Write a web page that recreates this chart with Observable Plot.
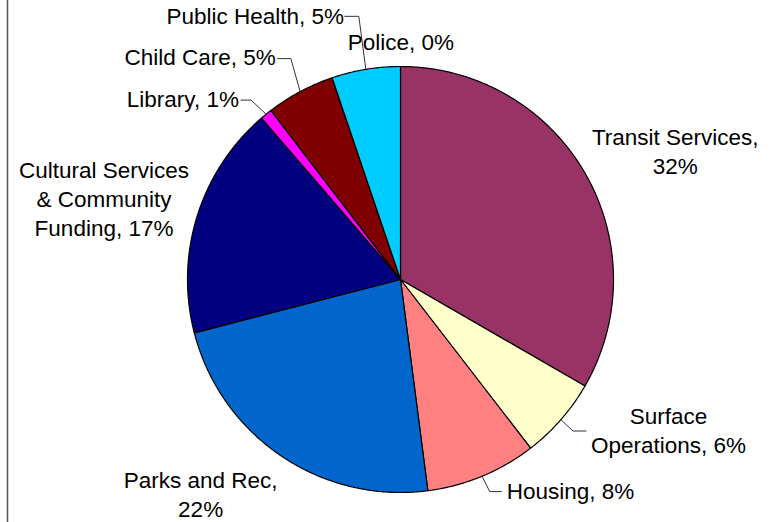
<!DOCTYPE html>
<html><head><meta charset="utf-8">
<script src="https://cdn.jsdelivr.net/npm/d3@7"></script>
<script src="https://cdn.jsdelivr.net/npm/@observablehq/plot@0.6"></script>
<style>body{margin:0;background:#fff}</style>
</head><body><div id="chart"></div>
<script>
// ---- data ----
const categories = ["Transit Services","Surface Operations","Housing","Parks and Rec","Cultural Services & Community Funding","Library","Child Care","Public Health","Police"];
const values = [33.3, 6.2, 8.4, 23.0, 17.7, 0.9, 5.2, 5.2, 0.0];
const labels = ["Transit Services,\n32%","Surface\nOperations, 6%","Housing, 8%","Parks and Rec,\n22%","Cultural Services\n& Community\nFunding, 17%","Library, 1%","Child Care, 5%","Public Health, 5%","Police, 0%"];
const colors = ["#993366","#FFFFCC","#FF8080","#0066CC","#000080","#FF00FF","#800000","#00CCFF","#3366FF"];

// ---- layout (pixels) ----
const W = 771, H = 522, CX = 400, CY = 279, R = 213, ML = 7;
const labelLayout = [
  {anchor:"middle", dx:90.3, dy:0.8},
  {anchor:"middle", dx:107.7, dy:33.3},
  {anchor:"start", dx:24.6, dy:22.6},
  {anchor:"middle", dx:-80.6, dy:60.9},
  {anchor:"middle", dx:-93.2, dy:20.5},
  {anchor:"end", dx:-27.2, dy:-7.1},
  {anchor:"end", dx:-24.3, dy:-26.3},
  {anchor:"end", dx:-21.7, dy:-44.9},
  {anchor:"start", dx:-52.7, dy:-16.7}
];
const leaderLayout = {
  1: [[12.2,11.3],[25.2,11.3]],
  2: [[7.6,15.3],[19.3,15.3]],
  5: [[-15.2,-14.1],[-25.2,-14.1]],
  6: [[-9.3,-33],[-22.6,-33]],
  7: [[-7,-53],[-21,-53]]
};

// ---- geometry from data ----
const arcs = d3.pie().sort(null).value(d => d).startAngle(0).endAngle(2 * Math.PI)(values);
const slicePts = [];
arcs.forEach((a, i) => {
  if (values[i] <= 0) return;
  const n = Math.max(2, Math.ceil((a.endAngle - a.startAngle) / (Math.PI / 360)));
  slicePts.push({cat: categories[i], color: colors[i], x: 0, y: 0});
  for (let k = 0; k <= n; ++k) {
    const t = a.startAngle + (a.endAngle - a.startAngle) * k / n;
    slicePts.push({cat: categories[i], color: colors[i], x: Math.sin(t), y: Math.cos(t)});
  }
  slicePts.push({cat: categories[i], color: colors[i], x: 0, y: 0});
});

const anchorOf = i => {
  const m = (arcs[i].startAngle + arcs[i].endAngle) / 2;
  return [Math.sin(m), Math.cos(m)];
};
const labelData = labels.map((text, i) => {
  const [ax, ay] = anchorOf(i);
  const L = labelLayout[i];
  return {text, anchor: L.anchor, x: ax + L.dx / R, y: ay - L.dy / R};
});
const leaderPts = [];
Object.entries(leaderLayout).forEach(([k, pts]) => {
  const i = +k;
  const [ax, ay] = anchorOf(i);
  leaderPts.push({cat: categories[i], x: ax, y: ay});
  pts.forEach(([dx, dy]) => leaderPts.push({cat: categories[i], x: ax + dx / R, y: ay - dy / R}));
});

const font = "'Liberation Sans', Arial, sans-serif";
const textMark = anchor => Plot.text(labelData.filter(d => d.anchor === anchor), {
  x: "x", y: "y", text: "text", textAnchor: anchor, lineAnchor: "bottom",
  lineHeight: 1.29, fontSize: 22.5, fill: "#000"
});

const chart = Plot.plot({
  width: W, height: H,
  marginLeft: ML, marginRight: 0, marginTop: 0, marginBottom: 0,
  style: {fontFamily: font, background: "#fff"},
  x: {domain: [-(CX - ML) / R, (W - CX) / R], axis: null},
  y: {domain: [-(H - CY) / R, CY / R], axis: null},
  color: {type: "identity"},
  marks: [
    Plot.frame({anchor: "left", stroke: "#555", strokeWidth: 1.5}),
    Plot.line(slicePts, {x: "x", y: "y", z: "cat", fill: "color", stroke: "#000", strokeWidth: 1.2, strokeLinejoin: "round"}),
    Plot.line(leaderPts, {x: "x", y: "y", z: "cat", stroke: "#333", strokeWidth: 1}),
    textMark("middle"), textMark("start"), textMark("end")
  ]
});
document.getElementById("chart").appendChild(chart);
</script>
</body></html>
